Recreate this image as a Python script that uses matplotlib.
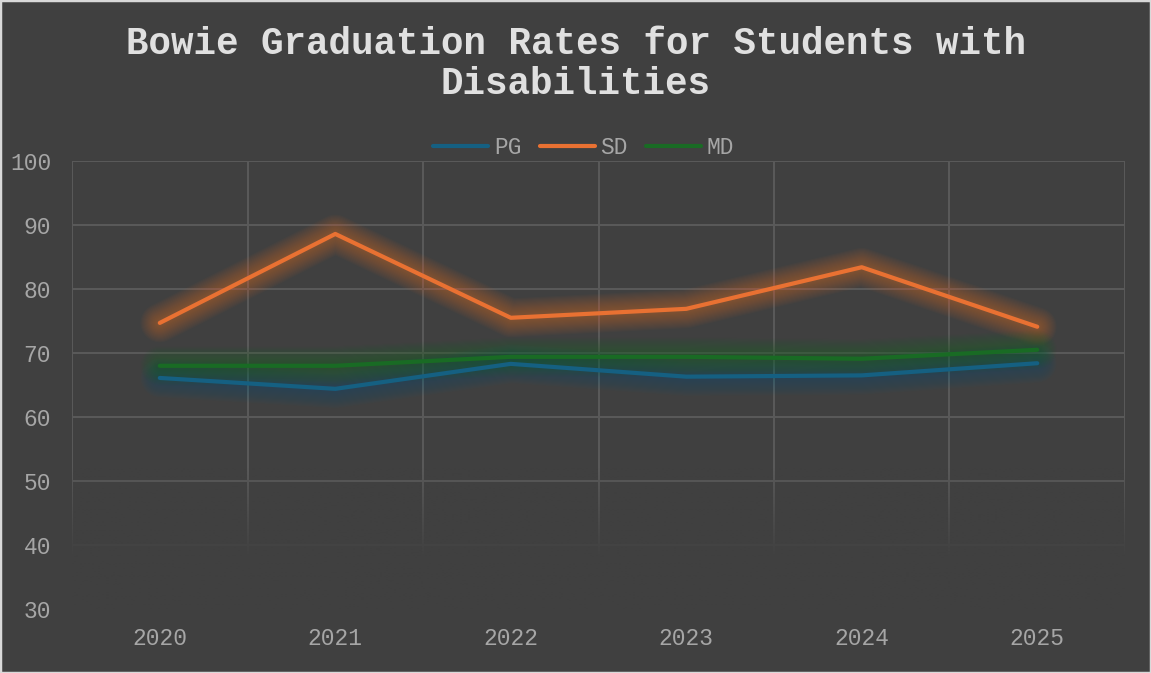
import numpy as np
import matplotlib.pyplot as plt
from matplotlib.patches import Rectangle

# data
years = ['2020', '2021', '2022', '2023', '2024', '2025']
pg = [66.1, 64.4, 68.3, 66.3, 66.5, 68.4]
sd = [74.7, 88.6, 75.5, 76.9, 83.4, 74.1]
md = [68.0, 68.0, 69.4, 69.4, 69.1, 70.5]
series_names = ['PG', 'SD', 'MD']
series_colors = ['#156082', '#E97132', '#196B24']
yticks = [30, 40, 50, 60, 70, 80, 90, 100]

bg = '#404040'
grid_col = '#5a5a5a'
text_col = '#a6a6a6'
mono = 'Liberation Mono'

fig = plt.figure(figsize=(11.51, 6.73), dpi=100, facecolor=bg)
ax = fig.add_axes([0.0626, 0.0951, 0.9148, 0.6657], facecolor=bg)

x = np.arange(len(years))

# grid drawn by hand so the bottom part can fade
for yv in yticks:
    ax.axhline(yv, color=grid_col, lw=1.4, zorder=1)
for xv in np.arange(-0.5, len(years), 1.0):
    ax.axvline(xv, color=grid_col, lw=1.4, zorder=1)

# fade grid out towards the bottom
fade = np.zeros((200, 2, 4))
fade[..., :3] = np.array([0x40, 0x40, 0x40]) / 255.0
yy = np.linspace(30, 55, 200)
fade[..., 3] = np.clip((52 - yy) / 14.0, 0, 1)[:, None]
ax.imshow(fade, extent=(-0.5, len(years) - 0.5, 30, 55), origin='lower',
          aspect='auto', zorder=2, interpolation='bilinear')
ax.set_xlim(-0.5, len(years) - 0.5)
ax.set_ylim(30, 100)

# lines with a soft glow
for name, vals, col in zip(series_names, [pg, sd, md], series_colors):
    for w in np.linspace(28, 5, 16):
        ax.plot(x, vals, color=col, lw=w, alpha=0.03, solid_capstyle='round',
                solid_joinstyle='round', zorder=3)
for name, vals, col in zip(series_names, [pg, sd, md], series_colors):
    ax.plot(x, vals, color=col, lw=3, solid_capstyle='round',
            solid_joinstyle='round', zorder=4, label=name)

for s in ax.spines.values():
    s.set_visible(False)

ax.set_xticks(x)
ax.set_xticklabels(years)
ax.set_yticks(yticks)
ax.tick_params(length=0, colors=text_col, labelsize=16.5)
ax.tick_params(axis='y', pad=15)
ax.tick_params(axis='x', pad=13)
for lab in ax.get_xticklabels() + ax.get_yticklabels():
    lab.set_fontfamily(mono)

leg = ax.legend(loc='lower center', bbox_to_anchor=(0.486, 0.985), ncol=3,
                frameon=False, prop={'family': mono, 'size': 16.5},
                handlelength=2.4, handletextpad=0.25, columnspacing=0.8,
                borderaxespad=0)
for t in leg.get_texts():
    t.set_color(text_col)

fig.text(0.5, 0.905, 'Bowie Graduation Rates for Students with\nDisabilities',
         ha='center', va='center', fontsize=27, fontweight='bold',
         family=mono, color='#e0e0e0', linespacing=1.15)

fig.patches.append(Rectangle((0, 0), 1, 1, transform=fig.transFigure,
                             fill=False, edgecolor='#d9d9d9', lw=2.5))

fig.savefig('out.png', dpi=100, facecolor=bg)
